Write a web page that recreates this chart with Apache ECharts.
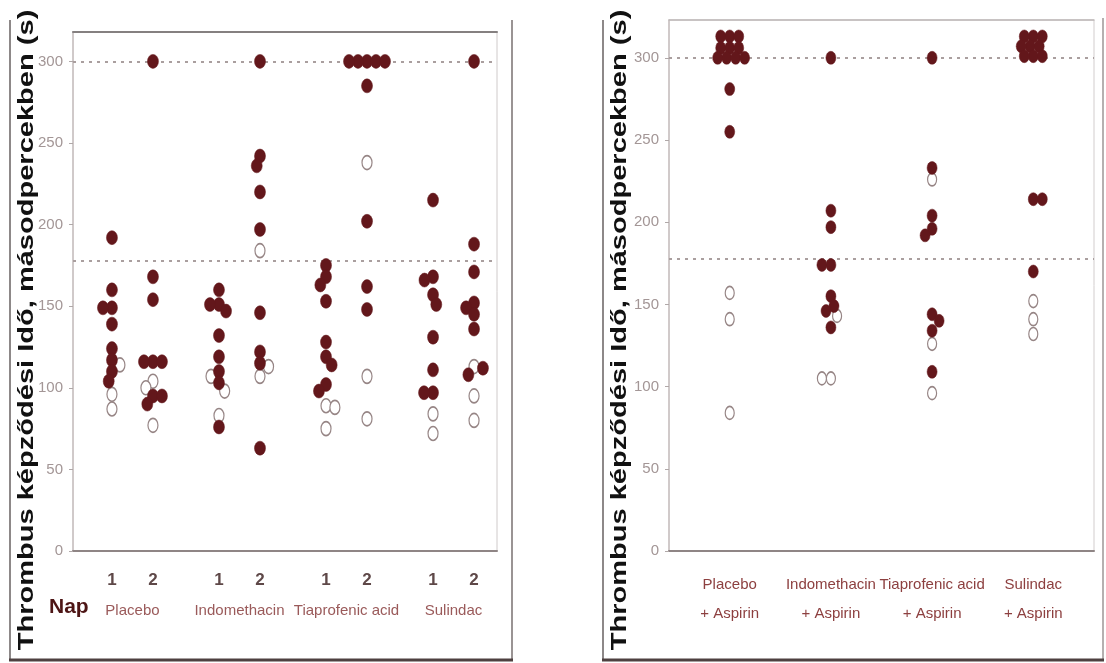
<!DOCTYPE html>
<html><head><meta charset="utf-8">
<script src="https://cdn.jsdelivr.net/npm/echarts@6/dist/echarts.min.js"></script>
<style>html,body{margin:0;padding:0;background:#fff}#c{width:1106px;height:663px}</style>
</head><body><div id="c"></div>
<script>
// ---------------- data ----------------
const yTitle = 'Thrombus képződési Idő, másodpercekben (s)';
const dayAxisName = 'Nap';
const dayGroups = ['Placebo', 'Indomethacin', 'Tiaprofenic acid', 'Sulindac'];
const dayLabels = ['1', '2'];
const aspirinGroups = ['Placebo\n+ Aspirin', 'Indomethacin\n+ Aspirin', 'Tiaprofenic acid\n+ Aspirin', 'Sulindac\n+ Aspirin'];
const yTicks = [0, 50, 100, 150, 200, 250, 300];
const refLines = [300, 178];

// left panel: [group][day] filled (closed circles) and open circles
const placeboDay1Filled = [192, 160, 149, 149, 139, 124, 117, 110, 104];
const placeboDay1Open   = [114, 96, 87];
const placeboDay2Filled = [300, 168, 154, 116, 116, 116, 95, 95, 90];
const placeboDay2Open   = [104, 100, 77];
const indoDay1Filled    = [160, 151, 151, 147, 132, 119, 110, 103, 76];
const indoDay1Open      = [107, 98, 83];
const indoDay2Filled    = [300, 242, 236, 220, 197, 146, 122, 115, 63];
const indoDay2Open      = [184, 113, 107];
const tiapDay1Filled    = [175, 168, 163, 153, 128, 119, 114, 102, 98];
const tiapDay1Open      = [89, 88, 75];
const tiapDay2Filled    = [300, 300, 300, 300, 300, 285, 202, 162, 148];
const tiapDay2Open      = [238, 107, 81];
const sulDay1Filled     = [215, 168, 166, 157, 151, 131, 111, 97, 97];
const sulDay1Open       = [84, 72];
const sulDay2Filled     = [300, 188, 171, 152, 149, 145, 136, 112, 108];
const sulDay2Open       = [113, 95, 80];

// right panel (+ Aspirin)
const placeboAspFilled = [313, 313, 313, 306, 306, 306, 300, 300, 300, 300, 281, 255];
const placeboAspOpen   = [157, 141, 84];
const indoAspFilled    = [300, 207, 197, 174, 174, 155, 149, 146, 136];
const indoAspOpen      = [143, 105, 105];
const tiapAspFilled    = [300, 233, 204, 196, 192, 144, 140, 134, 109];
const tiapAspOpen      = [226, 126, 96];
const sulAspFilled     = [313, 313, 313, 307, 307, 307, 301, 301, 301, 214, 214, 170];
const sulAspOpen       = [152, 141, 132];

const dayFilled = [[placeboDay1Filled, placeboDay2Filled], [indoDay1Filled, indoDay2Filled],
                   [tiapDay1Filled, tiapDay2Filled], [sulDay1Filled, sulDay2Filled]];
const dayOpen   = [[placeboDay1Open, placeboDay2Open], [indoDay1Open, indoDay2Open],
                   [tiapDay1Open, tiapDay2Open], [sulDay1Open, sulDay2Open]];
const aspFilled = [placeboAspFilled, indoAspFilled, tiapAspFilled, sulAspFilled];
const aspOpen   = [placeboAspOpen, indoAspOpen, tiapAspOpen, sulAspOpen];

// ---------------- layout ----------------
const LP = {left: 73, right: 497, top: 32, bottom: 551, xMin: -0.95, xMax: 9.39, yMax: 318};
const RP = {left: 669, right: 1094, top: 20, bottom: 551, xMin: -0.6, xMax: 3.6, yMax: 323};
const GROUP_STEP = 2.61;
const NARROW = "'Liberation Sans Narrow', 'Arial Narrow', 'Liberation Sans', Arial, sans-serif";
const ELLIPSE = 'path://M50,0A50,50,0,1,1,50,100A50,50,0,1,1,50,0Z';

// simple deterministic beeswarm: spreads overlapping points sideways
function swarm(filled, open, center, P, out) {
  const pxX = (P.right - P.left) / (P.xMax - P.xMin);
  const pxY = (P.bottom - P.top) / P.yMax;
  const pts = filled.map(v => ({v, open: false})).concat(open.map(v => ({v, open: true})));
  pts.sort((a, b) => b.v - a.v);
  const SW = 9, SH = 10.5;
  const placed = [];
  let last = 1;
  for (const p of pts) {
    const y = p.v * pxY;
    const cands = [0];
    for (const q of placed) {
      const dy = Math.abs(y - q.y);
      if (dy < SH) { const dx = SW * Math.sqrt(1 - (dy / SH) ** 2); cands.push(q.x + dx, q.x - dx); }
    }
    const ok = c => placed.every(q => ((c - q.x) / SW) ** 2 + ((y - q.y) / SH) ** 2 >= 0.999);
    cands.sort((a, b) => (Math.round(Math.abs(a) * 100) - Math.round(Math.abs(b) * 100)) || (a - b) * last);
    let x = cands.find(ok);
    if (x === undefined) x = 0;
    if (x !== 0) last = Math.sign(x);
    placed.push({x, y});
    (p.open ? out.open : out.filled).push([center + x / pxX, p.v]);
  }
}

const left = {filled: [], open: []};
const dayPos = [], dayPosLabel = {}, groupPos = [], groupPosLabel = {};
dayGroups.forEach((g, gi) => {
  dayLabels.forEach((d, di) => {
    const c = gi * GROUP_STEP + di;
    dayPos.push(c); dayPosLabel[c.toFixed(2)] = d;
    swarm(dayFilled[gi][di], dayOpen[gi][di], c, LP, left);
  });
  const gc = gi * GROUP_STEP + 0.5;
  groupPos.push(gc); groupPosLabel[gc.toFixed(2)] = g;
});
const right = {filled: [], open: []};
const aspPos = [], aspPosLabel = {};
aspirinGroups.forEach((g, gi) => {
  aspPos.push(gi); aspPosLabel[gi.toFixed(2)] = g;
  swarm(aspFilled[gi], aspOpen[gi], gi, RP, right);
});

function yAxisFor(gi, P) {
  return {
    type: 'value', gridIndex: gi, min: 0, max: P.yMax,
    axisLine: {show: true, onZero: false, lineStyle: {color: '#c9c1c1', width: 1.5}},
    axisTick: {show: true, customValues: yTicks, length: 4, lineStyle: {color: '#b0a8a8'}},
    axisLabel: {customValues: yTicks, color: '#a39696', fontSize: 15, fontFamily: NARROW, margin: 10},
    splitLine: {show: false}
  };
}
function xBase(gi, P) {
  return {type: 'value', gridIndex: gi, min: P.xMin, max: P.xMax, splitLine: {show: false},
          axisTick: {show: false}};
}
const markLine = {
  silent: true, symbol: 'none', z: 1,
  label: {show: false},
  lineStyle: {type: [3, 5], color: '#aa9f9f', width: 2.2, opacity: 1},
  emphasis: {disabled: true},
  data: refLines.map(v => ({yAxis: v}))
};
const openStyle = {color: '#ffffff', borderColor: '#968585', borderWidth: 1.4, opacity: 1};
const filledStyle = {color: '#63171b', borderColor: '#63171b', borderWidth: 0.5, opacity: 1};

const option = {
  animation: false,
  backgroundColor: '#ffffff',
  grid: [
    {left: LP.left, top: LP.top, width: LP.right - LP.left, height: LP.bottom - LP.top,
     show: true, borderColor: '#cfcaca', borderWidth: 1},
    {left: RP.left, top: RP.top, width: RP.right - RP.left, height: RP.bottom - RP.top,
     show: true, borderColor: '#d2cdcd', borderWidth: 1}
  ],
  xAxis: [
    Object.assign(xBase(0, LP), {position: 'bottom',
      axisLine: {show: true, onZero: false, lineStyle: {color: '#8f8585', width: 2}},
      axisLabel: {customValues: dayPos, formatter: v => dayPosLabel[(+v).toFixed(2)] || '',
                  color: '#5e4848', fontSize: 17, fontFamily: NARROW, fontWeight: 'bold', margin: 21}}),
    Object.assign(xBase(0, LP), {position: 'bottom', axisLine: {show: false, onZero: false},
      axisLabel: {customValues: groupPos, formatter: v => groupPosLabel[(+v).toFixed(2)] || '',
                  color: '#9a5a5a', fontSize: 15, fontFamily: NARROW, margin: 52}}),
    Object.assign(xBase(0, LP), {position: 'top',
      axisLine: {show: true, onZero: false, lineStyle: {color: '#858080', width: 2}}, axisLabel: {show: false}}),
    Object.assign(xBase(1, RP), {position: 'bottom',
      axisLine: {show: true, onZero: false, lineStyle: {color: '#8f8585', width: 2}},
      axisLabel: {customValues: aspPos, formatter: v => aspPosLabel[(+v).toFixed(2)] || '',
                  color: '#8d4040', fontSize: 15, fontFamily: NARROW, lineHeight: 29, margin: 19}}),
    Object.assign(xBase(1, RP), {position: 'top',
      axisLine: {show: true, onZero: false, lineStyle: {color: '#bdb8b8', width: 1.5}}, axisLabel: {show: false}})
  ],
  yAxis: [yAxisFor(0, LP), yAxisFor(1, RP)],
  series: [
    {type: 'scatter', xAxisIndex: 0, yAxisIndex: 0, z: 2, silent: true, symbol: ELLIPSE,
     symbolSize: [10, 14], itemStyle: openStyle, data: left.open, markLine: markLine},
    {type: 'scatter', xAxisIndex: 0, yAxisIndex: 0, z: 3, silent: true, symbol: ELLIPSE,
     symbolSize: [11, 14], itemStyle: filledStyle, data: left.filled},
    {type: 'scatter', xAxisIndex: 3, yAxisIndex: 1, z: 2, silent: true, symbol: ELLIPSE,
     symbolSize: [9, 13], itemStyle: openStyle, data: right.open, markLine: markLine},
    {type: 'scatter', xAxisIndex: 3, yAxisIndex: 1, z: 3, silent: true, symbol: ELLIPSE,
     symbolSize: [10, 13], itemStyle: filledStyle, data: right.filled}
  ],
  graphic: [
    {type: 'text', x: 27, y: 330, rotation: Math.PI / 2, scaleX: 1.32, silent: true,
     style: {text: yTitle, font: "bold 22px 'Liberation Sans', Arial, sans-serif", fill: '#111111',
             align: 'center', verticalAlign: 'middle'}},
    {type: 'text', x: 620, y: 330, rotation: Math.PI / 2, scaleX: 1.32, silent: true,
     style: {text: yTitle, font: "bold 22px 'Liberation Sans', Arial, sans-serif", fill: '#111111',
             align: 'center', verticalAlign: 'middle'}},
    {type: 'text', x: 49, y: 607, silent: true,
     style: {text: dayAxisName, font: "bold 21px 'Liberation Sans', Arial, sans-serif", fill: '#4d1515',
             verticalAlign: 'middle'}},
    // panel frames
    {type: 'line', silent: true, shape: {x1: 10, y1: 20, x2: 10, y2: 660}, style: {stroke: '#8d8888', lineWidth: 2}},
    {type: 'line', silent: true, shape: {x1: 512, y1: 20, x2: 512, y2: 660}, style: {stroke: '#9a9494', lineWidth: 2}},
    {type: 'line', silent: true, shape: {x1: 9, y1: 660, x2: 513, y2: 660}, style: {stroke: '#4e4040', lineWidth: 3}},
    {type: 'line', silent: true, shape: {x1: 603, y1: 20, x2: 603, y2: 660}, style: {stroke: '#8d8888', lineWidth: 2}},
    {type: 'line', silent: true, shape: {x1: 1103, y1: 18, x2: 1103, y2: 660}, style: {stroke: '#b5b0b0', lineWidth: 2}},
    {type: 'line', silent: true, shape: {x1: 602, y1: 660, x2: 1104, y2: 660}, style: {stroke: '#4e4040', lineWidth: 3}}
  ]
};
const chart = echarts.init(document.getElementById('c'), null, {renderer: 'canvas'});
chart.setOption(option);
</script>
</body></html>
